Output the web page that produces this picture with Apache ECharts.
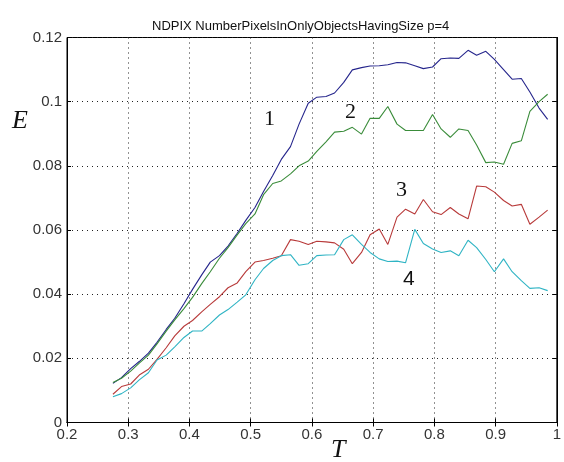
<!DOCTYPE html>
<html>
<head>
<meta charset="utf-8">
<script src="https://cdn.jsdelivr.net/npm/echarts@6/dist/echarts.min.js"></script>
<style>
  html, body { margin: 0; padding: 0; background: #fff; }
  #chart { width: 564px; height: 462px; }
</style>
</head>
<body>
<div id="chart"></div>
<script>
  // threshold values T (x axis)
  const tValues = [
    0.275, 0.289, 0.304, 0.318, 0.333, 0.347, 0.362, 0.376, 0.391, 0.405,
    0.420, 0.434, 0.449, 0.463, 0.478, 0.492, 0.507, 0.521, 0.536, 0.550,
    0.565, 0.579, 0.594, 0.608, 0.623, 0.637, 0.652, 0.666, 0.681, 0.695,
    0.710, 0.724, 0.739, 0.753, 0.768, 0.782, 0.797, 0.811, 0.826, 0.840,
    0.855, 0.869, 0.884, 0.898, 0.913, 0.927, 0.942, 0.956, 0.971, 0.985
  ];

  // curve 1 (blue)
  const series1 = [
    0.0122, 0.0140, 0.0168, 0.0190, 0.0216, 0.0250, 0.0290, 0.0325, 0.0370, 0.0415,
    0.0460, 0.0500, 0.0520, 0.0550, 0.0590, 0.0630, 0.0670, 0.0720, 0.0770, 0.0820,
    0.0860, 0.0930, 0.0995, 0.1014, 0.1016, 0.1027, 0.1060, 0.1099, 0.1106, 0.1111,
    0.1112, 0.1115, 0.1122, 0.1121, 0.1112, 0.1103, 0.1108, 0.1134, 0.1136, 0.1135,
    0.1160, 0.1145, 0.1157, 0.1132, 0.1100, 0.1070, 0.1072, 0.1030, 0.0980, 0.0945
  ];

  // curve 2 (green)
  const series2 = [
    0.0125, 0.0138, 0.0160, 0.0185, 0.0210, 0.0245, 0.0285, 0.0320, 0.0355, 0.0390,
    0.0433, 0.0470, 0.0512, 0.0545, 0.0585, 0.0620, 0.0650, 0.0710, 0.0745, 0.0753,
    0.0775, 0.0800, 0.0815, 0.0845, 0.0875, 0.0905, 0.0908, 0.0920, 0.0899, 0.0948,
    0.0948, 0.0985, 0.0930, 0.0910, 0.0910, 0.0910, 0.0960, 0.0915, 0.0889, 0.0915,
    0.0910, 0.0865, 0.0810, 0.0812, 0.0805, 0.0870, 0.0878, 0.0970, 0.1000, 0.1023
  ];

  // curve 3 (red)
  const series3 = [
    0.0088, 0.0112, 0.0120, 0.0148, 0.0166, 0.0197, 0.0233, 0.0270, 0.0300, 0.0318,
    0.0345, 0.0368, 0.0392, 0.0420, 0.0435, 0.0470, 0.0500, 0.0505, 0.0512, 0.0520,
    0.0570, 0.0565, 0.0555, 0.0565, 0.0563, 0.0560, 0.0540, 0.0495, 0.0530, 0.0585,
    0.0603, 0.0555, 0.0640, 0.0665, 0.0650, 0.0695, 0.0657, 0.0648, 0.0670, 0.0650,
    0.0635, 0.0737, 0.0735, 0.0718, 0.0692, 0.0675, 0.0680, 0.0618, 0.0640, 0.0662
  ];

  // curve 4 (cyan)
  const series4 = [
    0.0080, 0.0090, 0.0108, 0.0133, 0.0155, 0.0195, 0.0210, 0.0236, 0.0265, 0.0285,
    0.0285, 0.0308, 0.0335, 0.0352, 0.0375, 0.0398, 0.0445, 0.0480, 0.0505, 0.0520,
    0.0523, 0.0490, 0.0495, 0.0520, 0.0522, 0.0523, 0.0570, 0.0585, 0.0555, 0.0530,
    0.0510, 0.0502, 0.0503, 0.0498, 0.0602, 0.0558, 0.0541, 0.0530, 0.0535, 0.0520,
    0.0568, 0.0545, 0.0508, 0.0470, 0.0510, 0.0470, 0.0442, 0.0418, 0.0420, 0.0411
  ];

  const xTicks = [0.2, 0.3, 0.4, 0.5, 0.6, 0.7, 0.8, 0.9, 1];
  const yTicks = [0, 0.02, 0.04, 0.06, 0.08, 0.1, 0.12];

  const colors = ["#25258c", "#3a8c3a", "#b83a3a", "#2fb4c4"];

  const toPairs = vals => vals.map((v, i) => [tValues[i], v]);

  const gridLine = {
    show: true,
    lineStyle: { color: "#222", type: [1, 4], width: 1 }
  };

  const chart = echarts.init(document.getElementById("chart"), null, { renderer: "canvas" });

  chart.setOption({
    backgroundColor: "#fff",
    animation: false,
    title: {
      text: "NDPIX NumberPixelsInOnlyObjectsHavingSize p=4",
      left: 147,
      top: 15,
      textStyle: {
        fontFamily: "Liberation Sans, Arial, sans-serif",
        fontSize: 13,
        fontWeight: "normal",
        color: "#111"
      }
    },
    grid: {
      left: 67,
      right: 6,
      top: 37.5,
      bottom: 39.5,
      show: true,
      borderColor: "#000",
      borderWidth: 1
    },
    xAxis: [
      {
        type: "value",
        min: xTicks[0],
        max: xTicks[xTicks.length - 1],
        interval: 0.1,
        axisLine: { show: true, lineStyle: { color: "#000" } },
        axisTick: { show: true, inside: true, length: 4, lineStyle: { color: "#000" } },
        axisLabel: {
          margin: 5,
          fontFamily: "Liberation Sans, Arial, sans-serif",
          fontSize: 15,
          color: "#333",
          formatter: v => String(+v.toFixed(1))
        },
        splitLine: gridLine
      },
      {
        type: "value",
        position: "top",
        min: xTicks[0],
        max: xTicks[xTicks.length - 1],
        interval: 0.1,
        axisLine: { show: true, lineStyle: { color: "#000" } },
        axisTick: { show: true, inside: true, length: 4, lineStyle: { color: "#000" } },
        axisLabel: { show: false },
        splitLine: { show: false }
      }
    ],
    yAxis: [
      {
        type: "value",
        min: yTicks[0],
        max: yTicks[yTicks.length - 1],
        interval: 0.02,
        axisLine: { show: true, lineStyle: { color: "#000" } },
        axisTick: { show: true, inside: true, length: 4, lineStyle: { color: "#000" } },
        axisLabel: {
          margin: 5,
          fontFamily: "Liberation Sans, Arial, sans-serif",
          fontSize: 15,
          color: "#333",
          formatter: v => String(+v.toFixed(2))
        },
        splitLine: gridLine
      },
      {
        type: "value",
        position: "right",
        min: yTicks[0],
        max: yTicks[yTicks.length - 1],
        interval: 0.02,
        axisLine: { show: true, lineStyle: { color: "#000" } },
        axisTick: { show: true, inside: true, length: 4, lineStyle: { color: "#000" } },
        axisLabel: { show: false },
        splitLine: { show: false }
      }
    ],
    series: [series1, series2, series3, series4].map((vals, i) => ({
      name: String(i + 1),
      type: "line",
      data: toPairs(vals),
      showSymbol: false,
      lineStyle: { width: 1.1, color: colors[i] },
      itemStyle: { color: colors[i] }
    })),
    graphic: [
      { type: "text", left: 12, top: 108, style: { text: "E", font: "italic 26px 'Liberation Serif', serif", fill: "#111" } },
      { type: "text", left: 331, top: 437, style: { text: "T", font: "italic 26px 'Liberation Serif', serif", fill: "#111" } },
      { type: "text", left: 264, top: 108, style: { text: "1", font: "22px 'Liberation Serif', serif", fill: "#111" } },
      { type: "text", left: 345, top: 101, style: { text: "2", font: "22px 'Liberation Serif', serif", fill: "#111" } },
      { type: "text", left: 396, top: 179, style: { text: "3", font: "22px 'Liberation Serif', serif", fill: "#111" } },
      { type: "text", left: 403, top: 269, style: { text: "4", font: "21px 'Liberation Sans', sans-serif", fill: "#111" } }
    ]
  });

  window.addEventListener("resize", () => chart.resize());
</script>
</body>
</html>
